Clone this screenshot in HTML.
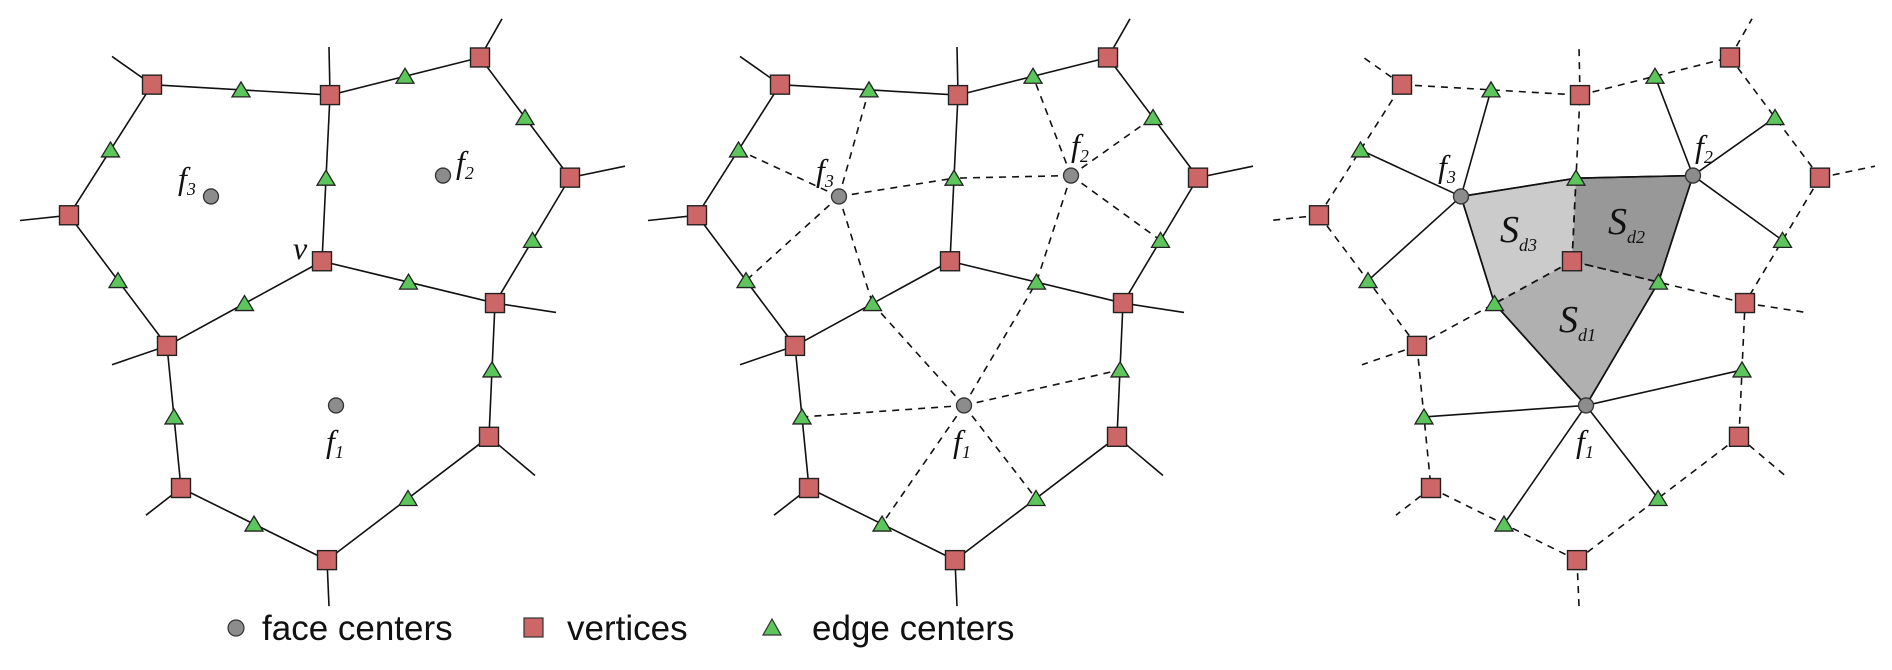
<!DOCTYPE html>
<html><head><meta charset="utf-8"><style>
html,body{margin:0;padding:0;background:#fff;}
svg{display:block;}
.fl{font-family:"Liberation Serif",serif;font-style:italic;font-size:32px;fill:#111;}
.sl{font-family:"Liberation Serif",serif;font-style:italic;font-size:38px;fill:#111;}
.sub{font-family:"Liberation Serif",serif;font-size:18px;fill:#111;}
.lg{font-family:"Liberation Sans",sans-serif;font-size:35px;fill:#111;}
</style></head><body>
<svg id="s" width="1892" height="670" viewBox="0 0 1892 670" xmlns="http://www.w3.org/2000/svg">
<g id="g"></g>
<text class="fl" x="178" y="189">f<tspan class="sub" dy="6">3</tspan></text>
<text class="fl" x="456" y="173">f<tspan class="sub" dy="6">2</tspan></text>
<text class="fl" x="326" y="452">f<tspan class="sub" dy="6">1</tspan></text>
<text class="fl" x="293" y="259">v</text>
<text class="fl" x="816" y="181">f<tspan class="sub" dy="6">3</tspan></text>
<text class="fl" x="1071" y="156">f<tspan class="sub" dy="6">2</tspan></text>
<text class="fl" x="953" y="452">f<tspan class="sub" dy="6">1</tspan></text>
<text class="fl" x="1438" y="177">f<tspan class="sub" dy="6">3</tspan></text>
<text class="fl" x="1695" y="157">f<tspan class="sub" dy="6">2</tspan></text>
<text class="fl" x="1576" y="452">f<tspan class="sub" dy="6">1</tspan></text>
<text class="sl" x="1500" y="242">S<tspan class="sub" dy="9">d3</tspan></text>
<text class="sl" x="1608" y="234">S<tspan class="sub" dy="9">d2</tspan></text>
<text class="sl" x="1559" y="332">S<tspan class="sub" dy="9">d1</tspan></text>
<circle cx="236" cy="628" r="8" fill="#8c8c8c" stroke="#333" stroke-width="1.2"/>
<text class="lg" x="262" y="640">face centers</text>
<rect x="524" y="618" width="19" height="19" fill="#cd6666" stroke="#333" stroke-width="1.2"/>
<text class="lg" x="567" y="640">vertices</text>
<polygon points="772,619 763,635 781,635" fill="#5cc65c" stroke="#333" stroke-width="1.2"/>
<text class="lg" x="812" y="640">edge centers</text>
</svg>
<script>
var NS="http://www.w3.org/2000/svg",g=document.getElementById("g"),SY=1.045;
var P={A:[152,81],B:[330,91],C:[480,55],D:[570,170],E:[495,290],V:[322,250],F:[69,206],G:[167,331],H:[181,467],I:[327,536],J:[489,418]};
var stubs={A:[112,54],B:[329,45],C:[502,18],D:[625,159],E:[556,299],F:[20,211],G:[112,349],H:[146,493],I:[329,580],J:[535,455]};
var FC={f3:[211,188],f2:[443,168],f1:[336,388]};
function sc(o){for(var k in o)o[k]=[o[k][0],o[k][1]*SY];}
sc(P);sc(stubs);sc(FC);
var E=[["A","B"],["B","C"],["C","D"],["D","E"],["E","V"],["V","B"],["V","G"],["G","F"],["F","A"],["G","H"],["H","I"],["I","J"],["J","E"]];
var faces={f3:["AB","FA","GF","VG","VB"],f2:["BC","CD","DE","EV","VB"],f1:["VG","GH","HI","IJ","JE","EV"]};
function mid(k){var a=P[k[0]],b=P[k[1]];return[(a[0]+b[0])/2,(a[1]+b[1])/2];}
function el(n,at){var e=document.createElementNS(NS,n);for(var k in at)e.setAttribute(k,at[k]);g.appendChild(e);return e;}
function line(a,b,dx,dash){el("line",{x1:a[0]+dx,y1:a[1],x2:b[0]+dx,y2:b[1],stroke:"#111","stroke-width":1.6,"stroke-dasharray":dash?"7,6":"none"});}
function sq(p,dx){el("rect",{x:p[0]+dx-9.5,y:p[1]-9.5,width:19,height:19,fill:"#cd6666",stroke:"#222","stroke-width":1.4});}
function tri(p,dx){var x=p[0]+dx,y=p[1];el("polygon",{points:(x)+","+(y-8)+" "+(x-9)+","+(y+7)+" "+(x+9)+","+(y+7),fill:"#5cc65c",stroke:"#222","stroke-width":1.3});}
function cir(p,dx){el("circle",{cx:p[0]+dx,cy:p[1],r:7.5,fill:"#8c8c8c",stroke:"#333","stroke-width":1.3});}
var panels=[[0,false],[628,false],[1250,true]];
panels.forEach(function(pp,i){
 var dx=pp[0],dash=pp[1];
 if(i==2){
  var f3=FC.f3,f2=FC.f2,f1=FC.f1,vb=mid("VB"),ev=mid("EV"),vg=mid("VG"),v=P.V;
  function poly(pts,fill){el("polygon",{points:pts.map(function(p){return(p[0]+dx)+","+p[1];}).join(" "),fill:fill,stroke:"none"});}
  poly([f3,vb,v,vg],"#cbcbcb");poly([vb,f2,ev,v],"#989898");poly([v,ev,f1,vg],"#b0b0b0");
 }
 for(var k in stubs)line(P[k],stubs[k],dx,dash);
 E.forEach(function(e){line(P[e[0]],P[e[1]],dx,dash);});
 if(i>0){for(var f in faces)faces[f].forEach(function(k){line(FC[f],mid(k),dx,i==1);});}
 if(i==2){
  var vb=mid("VB"),ev=mid("EV"),vg=mid("VG");
  line(P.V,vb,dx,true);line(P.V,ev,dx,true);line(P.V,vg,dx,true);
  line(FC.f3,vb,dx,false);line(vb,FC.f2,dx,false);line(FC.f2,ev,dx,false);line(ev,FC.f1,dx,false);line(FC.f1,vg,dx,false);line(vg,FC.f3,dx,false);
 }
 for(var k in P)sq(P[k],dx);
 E.forEach(function(e){tri(mid(e),dx);});
 for(var f in FC)cir(FC[f],dx);
});
</script>
</body></html>
